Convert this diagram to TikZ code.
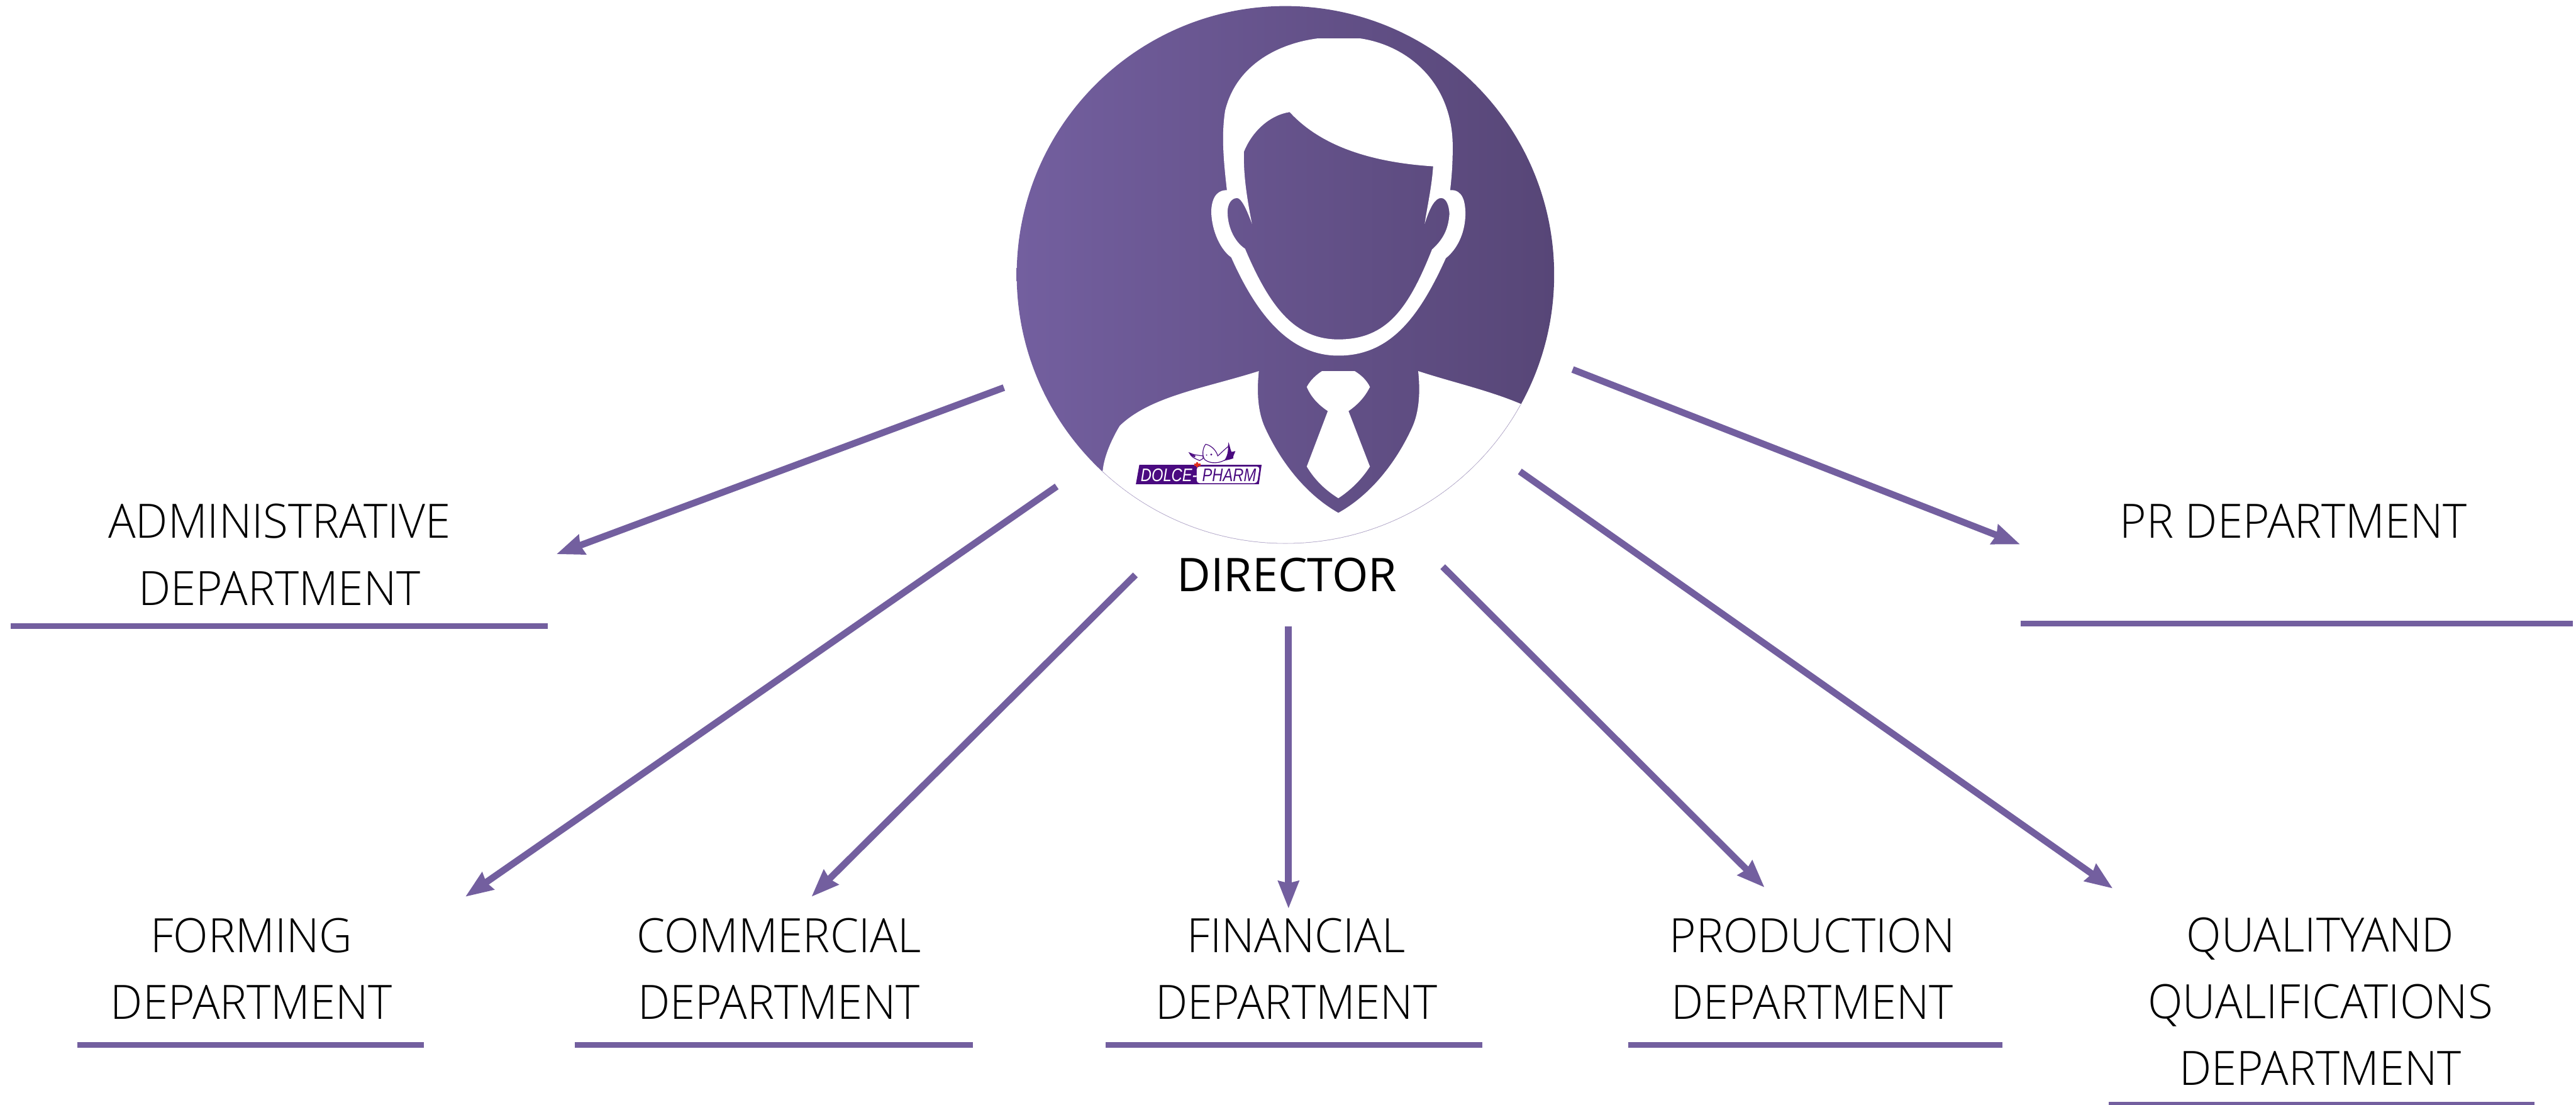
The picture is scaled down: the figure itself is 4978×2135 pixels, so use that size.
\documentclass[tikz,border=0pt]{standalone}
\usepackage{fontspec}
\usetikzlibrary{arrows.meta}
\setmainfont{Open Sans}
\newfontfamily\deptfont{Open Sans Light}[FakeStretch=0.965]
\newfontfamily\bossfont{Open Sans}
\newfontfamily\logofont{Liberation Sans}
\definecolor{violet1}{HTML}{735F9F}
\definecolor{violet2}{HTML}{574677}
\definecolor{logoink}{HTML}{4A0A80}
\definecolor{logored}{HTML}{E0301E}
\tikzset{
  dept/.style={inner sep=0pt,anchor=south,text depth=0pt,align=center,
    font=\deptfont\fontsize{26}{36.7}\selectfont},
  rule/.style={line width=3.1pt,color=violet1},
  link/.style={line width=3.7pt,color=violet1,
    -{Stealth[length=15pt,width=11pt,inset=1pt]}},
  logotext/.style={inner sep=0pt,text=#1,
    font=\logofont\itshape\fontsize{10}{10}\selectfont}
}
\begin{document}
\begin{tikzpicture}[x=0.01cm,y=-0.01cm]
  \useasboundingbox (0,0) rectangle (4978,2135);
  \node[circle,inner sep=0pt,minimum size=10.38cm,left color=violet1,right color=violet2] (boss) at (2484,531) {};
  \begin{scope}
    \clip (boss.center) circle (519);
    \begin{scope}[shift={(1950,0)},xscale=0.7015,yscale=0.7653]
      % head
      \fill[white,even odd rule]
        (600,480) .. controls (590,400) and (585,340) .. (595,280)
        .. controls (625,165) and (740,110) .. (850,97) -- (967,97)
        .. controls (1100,115) and (1222,210) .. (1222,370)
        .. controls (1222,410) and (1220,440) .. (1215,480)
        .. controls (1250,478) and (1257,510) .. (1257,540)
        .. controls (1257,580) and (1240,625) .. (1203,652)
        .. controls (1130,800) and (1050,898) .. (907,898)
        .. controls (770,898) and (680,790) .. (612,650)
        .. controls (575,625) and (556,570) .. (557,530)
        .. controls (560,490) and (580,480) .. (600,480) -- cycle
        (773,283) .. controls (860,370) and (1000,410) .. (1168,420)
        .. controls (1165,470) and (1150,530) .. (1145,565)
        .. controls (1160,520) and (1175,500) .. (1190,500)
        .. controls (1205,500) and (1212,520) .. (1213,540)
        .. controls (1210,580) and (1195,605) .. (1165,630)
        .. controls (1100,780) and (1040,857) .. (907,857)
        .. controls (790,857) and (720,780) .. (650,628)
        .. controls (620,610) and (600,570) .. (602,530)
        .. controls (605,505) and (620,500) .. (628,500)
        .. controls (640,500) and (655,530) .. (669,565)
        .. controls (655,500) and (645,440) .. (647,383)
        .. controls (670,330) and (720,290) .. (773,283) -- cycle;
      % shirt
      \fill[white]
        (150,1300) -- (258,1188) .. controls (262,1150) and (285,1105) .. (305,1075)
        .. controls (390,1000) and (540,980) .. (688,937)
        .. controls (682,990) and (685,1040) .. (705,1080)
        .. controls (750,1170) and (820,1250) .. (907,1295)
        .. controls (995,1250) and (1065,1170) .. (1110,1080)
        .. controls (1130,1040) and (1133,990) .. (1127,937)
        .. controls (1220,965) and (1320,985) .. (1410,1020)
        -- (1600,1020) -- (1600,1500) -- (150,1500) -- cycle;
      % tie
      \fill[white]
        (862,937) -- (952,937) .. controls (970,947) and (985,960) .. (994,977)
        .. controls (980,1003) and (960,1022) .. (935,1038) -- (994,1178)
        .. controls (970,1212) and (940,1238) .. (907,1258)
        .. controls (872,1238) and (842,1212) .. (820,1178) -- (878,1038)
        .. controls (852,1022) and (832,1003) .. (820,977)
        .. controls (830,960) and (845,947) .. (862,937) -- cycle;
    \end{scope}
  \end{scope}
  \draw[line width=0.2pt,color=violet1!50] (boss.center) ++(29:519) arc[start angle=29,end angle=133,radius=519];
  % logo
  \begin{scope}[shift={(2150,820)},scale=0.3333]
    \fill[logoink] (155,235) -- (864,235) -- (848,347) -- (135,347) -- cycle;
    \fill[white,rounded corners=1.5pt] (488,245) -- (853,245) -- (838,341) -- (488,341) -- cycle;
    \node[logotext=white] (dolce) at (327,293) {\scalebox{0.82}[1]{DOLCE-}};
    \node[logotext=logoink] (pharm) at (676,293) {\scalebox{0.82}[1]{PHARM}};
    % bird
    \draw[logoink,line width=0.4pt] (445,165) .. controls (470,178) and (500,180) .. (525,183)
      -- (525,198) -- (505,210) .. controls (480,200) and (455,190) .. (445,165) -- cycle;
    \fill[logoink] (445,165) .. controls (455,172) and (465,176) .. (480,180) -- (478,192)
      .. controls (462,186) and (452,178) .. (445,165) -- cycle;
    \fill[logoink] (672,103) .. controls (680,125) and (682,145) .. (690,160) -- (712,155)
      .. controls (705,175) and (695,190) .. (700,197)
      .. controls (680,205) and (660,207) .. (645,212)
      .. controls (665,190) and (672,150) .. (668,130)
      .. controls (670,120) and (672,110) .. (672,103) -- cycle;
    \draw[logoink,line width=0.4pt] (610,183) .. controls (630,165) and (650,145) .. (668,130);
    \draw[logoink,line width=0.4pt] (540,115) .. controls (520,140) and (518,185) .. (535,205)
      .. controls (570,232) and (620,225) .. (650,207);
    \draw[logoink,line width=0.4pt] (540,115) .. controls (580,125) and (605,160) .. (610,185);
    \fill[logoink] (572,175) circle (6) (545,178) circle (4);
    \draw[logored,line width=1.2pt] (472,234) -- (510,234) (490,218) -- (490,250);
  \end{scope}
  % labels
  \draw
    (2487,1143) node[inner sep=0pt,anchor=base,font=\bossfont\fontsize{25.5}{25.5}\selectfont] (director){DIRECTOR}
    (540,1170) node[dept] (admin){ADMINISTRATIVE\\DEPARTMENT}
    (4432,1041) node[dept] (pr){PR DEPARTMENT}
    (486,1970) node[dept] (forming){FORMING\\DEPARTMENT}
    (1505,1970) node[dept] (commercial){COMMERCIAL\\DEPARTMENT}
    (2505,1970) node[dept] (financial){FINANCIAL\\DEPARTMENT}
    (3502,1970) node[dept] (production){PRODUCTION\\DEPARTMENT}
    (4484,2098) node[dept] (quality){QUALITYAND\\QUALIFICATIONS\\DEPARTMENT};
  % arrow ends
  \coordinate (t1) at (1940,749);
  \coordinate (h1) at (1075,1071);
  \coordinate (t2) at (2042,940);
  \coordinate (h2) at (899,1733);
  \coordinate (t3) at (2194,1111);
  \coordinate (h3) at (1568,1733);
  \coordinate (t4) at (2490,1210);
  \coordinate (h4) at (2490,1756);
  \coordinate (t5) at (2788,1095);
  \coordinate (h5) at (3410,1715);
  \coordinate (t6) at (2937,911);
  \coordinate (h6) at (4083,1717);
  \coordinate (t7) at (3039,714);
  \coordinate (h7) at (3904,1052);
  \begin{scope}[link]
    \draw (t1) to (h1);
    \draw (t2) to (h2);
    \draw (t3) to (h3);
    \draw (t4) to (h4);
    \draw (t5) to (h5);
    \draw (t6) to (h6);
    \draw (t7) to (h7);
  \end{scope}
  % rules under the labels
  \coordinate (a1) at (21,1210);
  \coordinate (a2) at (1058,1210);
  \coordinate (p1) at (3905,1205);
  \coordinate (p2) at (4972,1205);
  \coordinate (f1) at (149,2019);
  \coordinate (f2) at (819,2019);
  \coordinate (c1) at (1111,2019);
  \coordinate (c2) at (1880,2019);
  \coordinate (n1) at (2137,2019);
  \coordinate (n2) at (2864,2019);
  \coordinate (o1) at (3146,2019);
  \coordinate (o2) at (3870,2019);
  \coordinate (q1) at (4075,2135);
  \coordinate (q2) at (4898,2135);
  \begin{scope}[rule]
    \draw (a1) to (a2);
    \draw (p1) to (p2);
    \draw (f1) to (f2);
    \draw (c1) to (c2);
    \draw (n1) to (n2);
    \draw (o1) to (o2);
    \draw (q1) to (q2);
  \end{scope}
\end{tikzpicture}
\end{document}
